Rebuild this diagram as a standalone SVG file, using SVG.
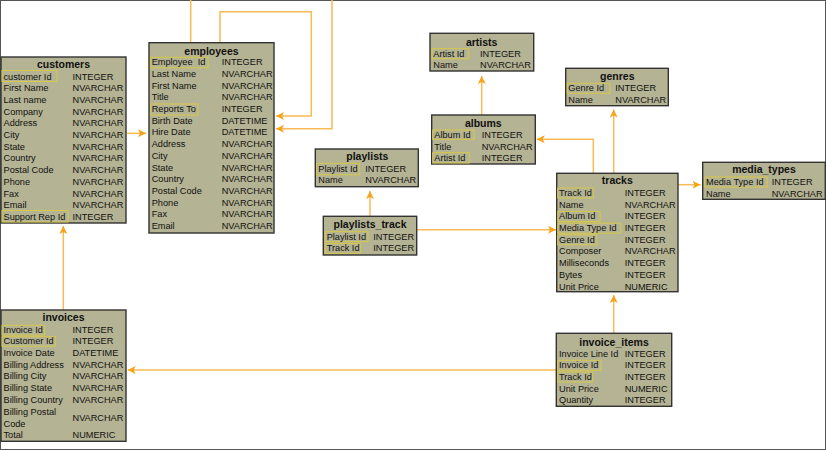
<svg xmlns="http://www.w3.org/2000/svg" width="826" height="450" viewBox="0 0 826 450">
<defs>
<marker id="ah" markerUnits="userSpaceOnUse" markerWidth="10" markerHeight="10" refX="8" refY="4.5" orient="auto">
<path d="M0,0.5 L8,4.5 L0,8.5 L2,4.5 z" fill="#f7a41c"/>
</marker>
<style>
.box{fill:#b4b393;stroke:#333;stroke-width:1.4}
.t{font-family:"Liberation Sans",Arial,sans-serif;font-size:10.5px;font-weight:bold;fill:#111;text-anchor:middle}
.f{font-family:"Liberation Sans",Arial,sans-serif;font-size:9.2px;fill:#111}
.k{fill:none;stroke:#d8c94a;stroke-width:1}
.c{fill:none;stroke:#f9bb55;stroke-width:1.5;marker-end:url(#ah)}
</style>
</defs>
<rect x="0.5" y="0.5" width="825" height="449" fill="#fff" stroke="#555" stroke-width="1"/>
<g id="connectors">
<polyline class="c" points="63.3,310 63.3,226"/>
<polyline class="c" points="127,133.3 146,133.3"/>
<polyline class="c" points="190.7,42.7 190.7,-5 332,-5 332,128.7 276,128.7"/>
<polyline class="c" points="220,42.7 220,11.7 311.3,11.7 311.3,116 276,116"/>
<polyline class="c" points="481.7,115 481.7,76"/>
<polyline class="c" points="593.3,173.3 593.3,139.3 536.7,139.3"/>
<polyline class="c" points="370,216.3 370,191"/>
<polyline class="c" points="417,229.7 556,229.7"/>
<polyline class="c" points="613.7,173.3 613.7,109.5"/>
<polyline class="c" points="678,184.7 700.5,184.7"/>
<polyline class="c" points="613.7,333.3 613.7,295"/>
<polyline class="c" points="556.3,370 127.7,370"/>
</g>
<g id="customers">
<rect class="box" x="1" y="57" width="125" height="166"/>
<text class="t" x="63.5" y="67.5">customers</text>
<rect class="k" x="2" y="70.5" width="55" height="11"/>
<rect class="k" x="2" y="210.5" width="66" height="11.5"/>
<text class="f" x="3.5" y="79.5">customer Id</text><text class="f" x="72.5" y="79.5">INTEGER</text>
<text class="f" x="3.5" y="91.2">First Name</text><text class="f" x="72.5" y="91.2">NVARCHAR</text>
<text class="f" x="3.5" y="102.9">Last name</text><text class="f" x="72.5" y="102.9">NVARCHAR</text>
<text class="f" x="3.5" y="114.6">Company</text><text class="f" x="72.5" y="114.6">NVARCHAR</text>
<text class="f" x="3.5" y="126.3">Address</text><text class="f" x="72.5" y="126.3">NVARCHAR</text>
<text class="f" x="3.5" y="138">City</text><text class="f" x="72.5" y="138">NVARCHAR</text>
<text class="f" x="3.5" y="149.7">State</text><text class="f" x="72.5" y="149.7">NVARCHAR</text>
<text class="f" x="3.5" y="161.4">Country</text><text class="f" x="72.5" y="161.4">NVARCHAR</text>
<text class="f" x="3.5" y="173.1">Postal Code</text><text class="f" x="72.5" y="173.1">NVARCHAR</text>
<text class="f" x="3.5" y="184.8">Phone</text><text class="f" x="72.5" y="184.8">NVARCHAR</text>
<text class="f" x="3.5" y="196.5">Fax</text><text class="f" x="72.5" y="196.5">NVARCHAR</text>
<text class="f" x="3.5" y="208.2">Email</text><text class="f" x="72.5" y="208.2">NVARCHAR</text>
<text class="f" x="3.5" y="219.9">Support Rep Id</text><text class="f" x="72.5" y="219.9">INTEGER</text>
</g>
<g id="employees">
<rect class="box" x="149" y="42.7" width="125" height="190.3"/>
<text class="t" x="211.5" y="54.5">employees</text>
<rect class="k" x="150.7" y="57.3" width="57.3" height="10.5"/>
<rect class="k" x="150.7" y="104" width="47.3" height="11"/>
<text class="f" x="151.7" y="65.2" xml:space="preserve">Employee  Id</text><text class="f" x="221.7" y="65.2">INTEGER</text>
<text class="f" x="151.7" y="76.9">Last Name</text><text class="f" x="221.7" y="76.9">NVARCHAR</text>
<text class="f" x="151.7" y="88.6">First Name</text><text class="f" x="221.7" y="88.6">NVARCHAR</text>
<text class="f" x="151.7" y="100.3">Title</text><text class="f" x="221.7" y="100.3">NVARCHAR</text>
<text class="f" x="151.7" y="112">Reports To</text><text class="f" x="221.7" y="112">INTEGER</text>
<text class="f" x="151.7" y="123.7">Birth Date</text><text class="f" x="221.7" y="123.7">DATETIME</text>
<text class="f" x="151.7" y="135.4">Hire Date</text><text class="f" x="221.7" y="135.4">DATETIME</text>
<text class="f" x="151.7" y="147.1">Address</text><text class="f" x="221.7" y="147.1">NVARCHAR</text>
<text class="f" x="151.7" y="158.8">City</text><text class="f" x="221.7" y="158.8">NVARCHAR</text>
<text class="f" x="151.7" y="170.5">State</text><text class="f" x="221.7" y="170.5">NVARCHAR</text>
<text class="f" x="151.7" y="182.2">Country</text><text class="f" x="221.7" y="182.2">NVARCHAR</text>
<text class="f" x="151.7" y="193.9">Postal Code</text><text class="f" x="221.7" y="193.9">NVARCHAR</text>
<text class="f" x="151.7" y="205.6">Phone</text><text class="f" x="221.7" y="205.6">NVARCHAR</text>
<text class="f" x="151.7" y="217.3">Fax</text><text class="f" x="221.7" y="217.3">NVARCHAR</text>
<text class="f" x="151.7" y="229">Email</text><text class="f" x="221.7" y="229">NVARCHAR</text>
</g>
<g id="invoices">
<rect class="box" x="1" y="310" width="125" height="131.3"/>
<text class="t" x="63.5" y="321">invoices</text>
<rect class="k" x="2" y="325.3" width="42.7" height="9.7"/>
<rect class="k" x="2" y="336.7" width="53.3" height="9.5"/>
<text class="f" x="3.5" y="332.5">Invoice Id</text><text class="f" x="72.5" y="332.5">INTEGER</text>
<text class="f" x="3.5" y="344.2">Customer Id</text><text class="f" x="72.5" y="344.2">INTEGER</text>
<text class="f" x="3.5" y="355.9">Invoice Date</text><text class="f" x="72.5" y="355.9">DATETIME</text>
<text class="f" x="3.5" y="367.6">Billing Address</text><text class="f" x="72.5" y="367.6">NVARCHAR</text>
<text class="f" x="3.5" y="379.3">Billing City</text><text class="f" x="72.5" y="379.3">NVARCHAR</text>
<text class="f" x="3.5" y="391">Billing State</text><text class="f" x="72.5" y="391">NVARCHAR</text>
<text class="f" x="3.5" y="402.7">Billing Country</text><text class="f" x="72.5" y="402.7">NVARCHAR</text>
<text class="f" x="3.5" y="414.8">Billing Postal</text>
<text class="f" x="3.5" y="426.5">Code</text><text class="f" x="72.5" y="420.5">NVARCHAR</text>
<text class="f" x="3.5" y="437.9">Total</text><text class="f" x="72.5" y="437.9">NUMERIC</text>
</g>
<g id="artists">
<rect class="box" x="430" y="33.3" width="103.7" height="37.7"/>
<text class="t" x="481.7" y="45.5">artists</text>
<rect class="k" x="432" y="48.7" width="36.7" height="10"/>
<text class="f" x="433.3" y="56.5">Artist Id</text><text class="f" x="480" y="56.5">INTEGER</text>
<text class="f" x="433.3" y="68.2">Name</text><text class="f" x="480" y="68.2">NVARCHAR</text>
</g>
<g id="albums">
<rect class="box" x="431.7" y="115" width="103.6" height="49"/>
<text class="t" x="483.3" y="126.5">albums</text>
<rect class="k" x="432.7" y="130" width="41.3" height="9.3"/>
<rect class="k" x="432.7" y="152.7" width="36.6" height="10.3"/>
<text class="f" x="434.3" y="137.9">Album Id</text><text class="f" x="481.7" y="137.9">INTEGER</text>
<text class="f" x="434.3" y="149.6">Title</text><text class="f" x="481.7" y="149.6">NVARCHAR</text>
<text class="f" x="434.3" y="161.3">Artist Id</text><text class="f" x="481.7" y="161.3">INTEGER</text>
</g>
<g id="playlists">
<rect class="box" x="315.3" y="149" width="103" height="37.7"/>
<text class="t" x="367.3" y="160.1">playlists</text>
<rect class="k" x="316.7" y="163.3" width="42.6" height="11.5"/>
<text class="f" x="318.3" y="171.5">Playlist Id</text><text class="f" x="365.3" y="171.5">INTEGER</text>
<text class="f" x="318.3" y="183.2">Name</text><text class="f" x="365.3" y="183.2">NVARCHAR</text>
</g>
<g id="playlists_track">
<rect class="box" x="323.3" y="216.3" width="93.4" height="38.7"/>
<text class="t" x="370" y="228.1">playlists_track</text>
<rect class="k" x="325.3" y="231.7" width="42.7" height="10"/>
<rect class="k" x="325.3" y="243.7" width="35.4" height="9.6"/>
<text class="f" x="326.7" y="239.5">Playlist Id</text><text class="f" x="373.3" y="239.5">INTEGER</text>
<text class="f" x="326.7" y="251.2">Track Id</text><text class="f" x="373.3" y="251.2">INTEGER</text>
</g>
<g id="genres">
<rect class="box" x="565.7" y="68.3" width="102.6" height="37.4"/>
<text class="t" x="617.3" y="79.8">genres</text>
<rect class="k" x="567.3" y="83.3" width="42.7" height="10"/>
<text class="f" x="568.3" y="91.2">Genre Id</text><text class="f" x="615.3" y="91.2">INTEGER</text>
<text class="f" x="568.3" y="102.9">Name</text><text class="f" x="615.3" y="102.9">NVARCHAR</text>
</g>
<g id="tracks">
<rect class="box" x="556.7" y="173.3" width="121.3" height="118.4"/>
<text class="t" x="617.3" y="183.8">tracks</text>
<rect class="k" x="557.7" y="188" width="35.6" height="10"/>
<rect class="k" x="557.7" y="211.4" width="42.3" height="10"/>
<rect class="k" x="557.7" y="223.1" width="63" height="10"/>
<rect class="k" x="557.7" y="234.8" width="39" height="10"/>
<text class="f" x="559" y="195.9">Track Id</text><text class="f" x="624.7" y="195.9">INTEGER</text>
<text class="f" x="559" y="207.6">Name</text><text class="f" x="624.7" y="207.6">NVARCHAR</text>
<text class="f" x="559" y="219.3">Album Id</text><text class="f" x="624.7" y="219.3">INTEGER</text>
<text class="f" x="559" y="231">Media Type Id</text><text class="f" x="624.7" y="231">INTEGER</text>
<text class="f" x="559" y="242.7">Genre Id</text><text class="f" x="624.7" y="242.7">INTEGER</text>
<text class="f" x="559" y="254.4">Composer</text><text class="f" x="624.7" y="254.4">NVARCHAR</text>
<text class="f" x="559" y="266.1">Milliseconds</text><text class="f" x="624.7" y="266.1">INTEGER</text>
<text class="f" x="559" y="277.8">Bytes</text><text class="f" x="624.7" y="277.8">INTEGER</text>
<text class="f" x="559" y="289.5">Unit Price</text><text class="f" x="624.7" y="289.5">NUMERIC</text>
</g>
<g id="media_types">
<rect class="box" x="702.7" y="162.3" width="122.6" height="37"/>
<text class="t" x="764" y="173.1">media_types</text>
<rect class="k" x="704.7" y="177" width="62.6" height="10"/>
<text class="f" x="706" y="185.2">Media Type Id</text><text class="f" x="771.7" y="185.2">INTEGER</text>
<text class="f" x="706" y="196.9">Name</text><text class="f" x="771.7" y="196.9">NVARCHAR</text>
</g>
<g id="invoice_items">
<rect class="box" x="556.3" y="333.3" width="115.4" height="73"/>
<text class="t" x="614" y="345.5">invoice_items</text>
<rect class="k" x="557.7" y="360.3" width="43.3" height="10"/>
<rect class="k" x="557.7" y="372" width="35" height="10"/>
<text class="f" x="559" y="356.5">Invoice Line Id</text><text class="f" x="624.7" y="356.5">INTEGER</text>
<text class="f" x="559" y="368.2">Invoice Id</text><text class="f" x="624.7" y="368.2">INTEGER</text>
<text class="f" x="559" y="379.9">Track Id</text><text class="f" x="624.7" y="379.9">INTEGER</text>
<text class="f" x="559" y="391.6">Unit Price</text><text class="f" x="624.7" y="391.6">NUMERIC</text>
<text class="f" x="559" y="403.3">Quantity</text><text class="f" x="624.7" y="403.3">INTEGER</text>
</g>
</svg>
